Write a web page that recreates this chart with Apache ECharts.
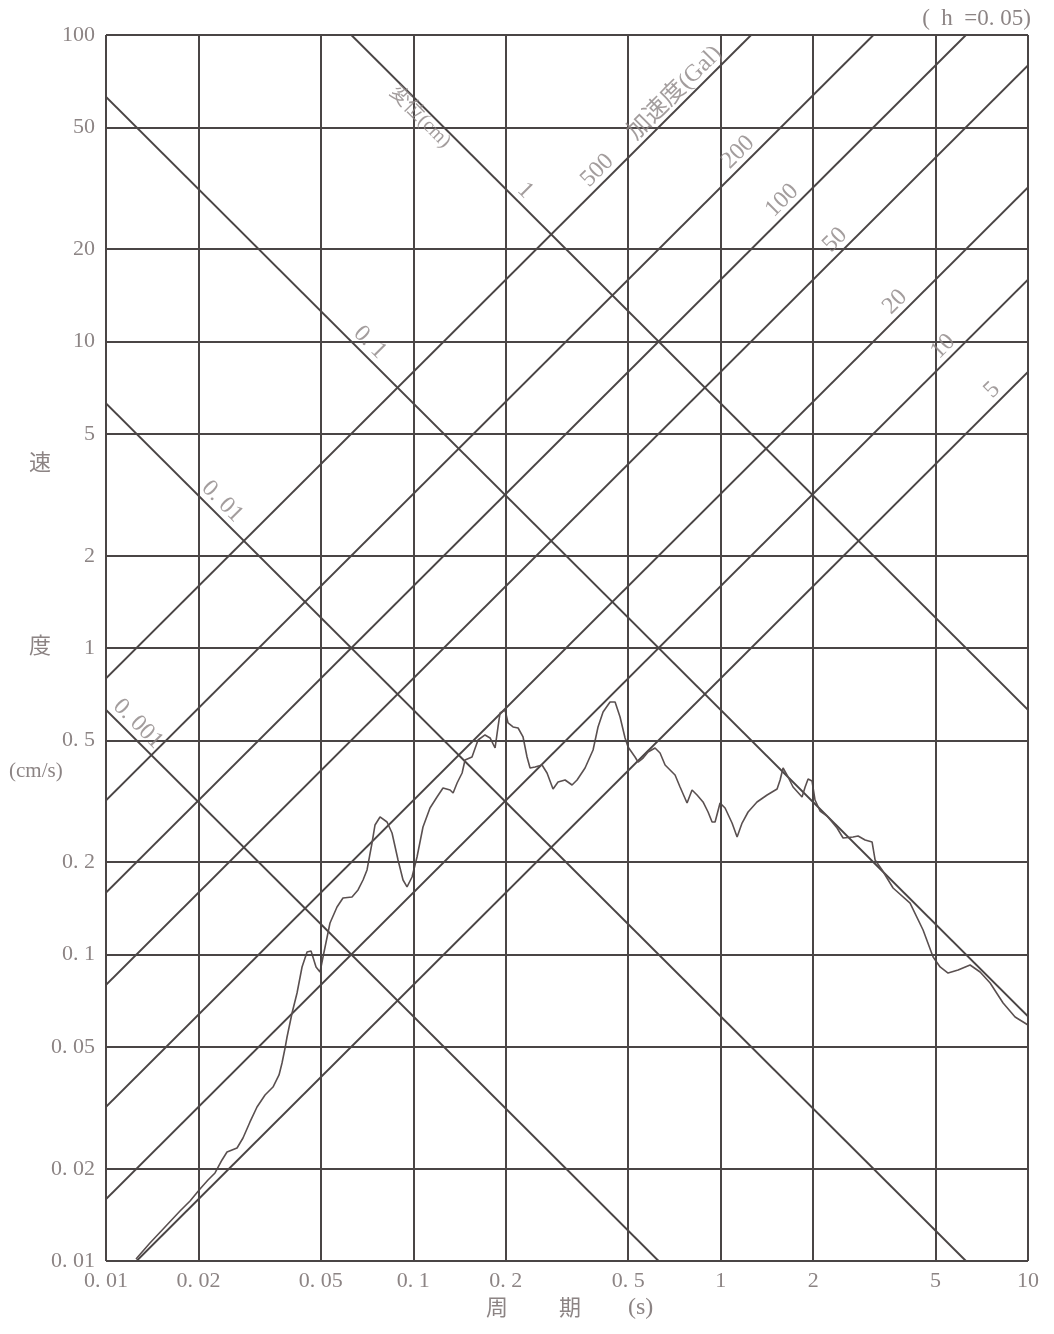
<!DOCTYPE html>
<html>
<head>
<meta charset="utf-8">
<script src="https://cdn.jsdelivr.net/npm/echarts@6/dist/echarts.min.js"></script>
<style>
html,body{margin:0;padding:0;background:#ffffff;}
#chart{width:1054px;height:1334px;}
</style>
</head>
<body>
<div id="chart"></div>
<script>
// ---------------- data ----------------
const periodTicks = [0.01, 0.02, 0.05, 0.1, 0.2, 0.5, 1, 2, 5, 10];
const periodTickLabels = ['0. 01', '0. 02', '0. 05', '0. 1', '0. 2', '0. 5', '1', '2', '5', '10'];
const velocityTicks = [0.01, 0.02, 0.05, 0.1, 0.2, 0.5, 1, 2, 5, 10, 20, 50, 100];
const velocityTickLabels = ['0. 01', '0. 02', '0. 05', '0. 1', '0. 2', '0. 5', '1', '2', '5', '10', '20', '50', '100'];

// displacement guide lines (cm) and where their labels sit (period, s)
const displacementValues = [0.001, 0.01, 0.1, 1];
const displacementLabels = ['0. 001', '0. 01', '0. 1', '1'];
const displacementLabelPeriods = [0.0127, 0.0239, 0.0723, 0.231];
const displacementTitle = '変位(cm)';
const displacementTitlePeriod = 0.105;

// acceleration guide lines (Gal) and where their labels sit (period, s)
const accelerationValues = [500, 200, 100, 50, 20, 10, 5];
const accelerationLabels = ['500', '200', '100', '50', '20', '10', '5'];
const accelerationLabelPeriods = [0.397, 1.139, 1.584, 2.357, 3.694, 5.293, 7.64];
const accelerationTitle = '加速度(Gal)';
const accelerationTitlePeriod = 0.71;

// velocity response spectrum (h = 0.05)
const spectrumPeriod = [
  0.01252, 0.0139, 0.01556, 0.01741, 0.01877, 0.02022, 0.02147, 0.02263, 0.02385, 0.02476,
  0.02669, 0.02791, 0.02941, 0.031, 0.03292, 0.03494, 0.03656, 0.03739, 0.03825, 0.03882,
  0.04031, 0.04184, 0.04344, 0.0451, 0.04647, 0.04824, 0.0497, 0.05083, 0.05356, 0.05645,
  0.05904, 0.06317, 0.06607, 0.0686, 0.07068, 0.07338, 0.07505, 0.07791, 0.08211, 0.08525,
  0.08917, 0.09258, 0.09539, 0.09904, 0.1028, 0.1075, 0.1133, 0.1194, 0.1249, 0.1317,
  0.1347, 0.1388, 0.1441, 0.1473, 0.1552, 0.1624, 0.1711, 0.1777, 0.1845, 0.1886,
  0.1915, 0.1988, 0.2033, 0.2111, 0.2192, 0.2275, 0.2344, 0.2398, 0.2489, 0.2623,
  0.2723, 0.2848, 0.2957, 0.3117, 0.3284, 0.341, 0.362, 0.3844, 0.399, 0.4143,
  0.4366, 0.4534, 0.4706, 0.4886, 0.4997, 0.5265, 0.5385, 0.5592, 0.5804, 0.6116,
  0.635, 0.6594, 0.7106, 0.7377, 0.7774, 0.807, 0.8379, 0.8763, 0.9099, 0.9376,
  0.959, 0.9954, 1.0335, 1.089, 1.131, 1.174, 1.228, 1.313, 1.416, 1.526,
  1.561, 1.596, 1.657, 1.72, 1.84, 1.883, 1.925, 1.983, 2.028, 2.106,
  2.22, 2.392, 2.502, 2.697, 2.8, 2.951, 3.11, 3.18, 3.352, 3.639,
  4.133, 4.556, 4.912, 5.176, 5.495, 5.923, 6.48, 6.984, 7.53, 8.299,
  9.078, 10
];
const spectrumVelocity = [
  0.01015, 0.01145, 0.01291, 0.01456, 0.0157, 0.01717, 0.01838, 0.01937, 0.02136, 0.02268,
  0.02337, 0.02519, 0.02842, 0.0318, 0.0348, 0.03695, 0.04045, 0.04426, 0.04953, 0.0538,
  0.06443, 0.07487, 0.09105, 0.1019, 0.1026, 0.09105, 0.08768, 0.09813, 0.1267, 0.1429,
  0.1529, 0.154, 0.1624, 0.175, 0.1887, 0.2311, 0.2646, 0.281, 0.2706, 0.2491,
  0.2034, 0.175, 0.1661, 0.179, 0.208, 0.2606, 0.3006, 0.3265, 0.3493, 0.3441,
  0.3364, 0.3627, 0.391, 0.4311, 0.441, 0.501, 0.5203, 0.5087, 0.4718, 0.5525,
  0.6137, 0.6277, 0.5693, 0.5525, 0.5483, 0.5125, 0.441, 0.406, 0.4091, 0.4153,
  0.391, 0.3467, 0.3654, 0.371, 0.3573, 0.371, 0.406, 0.4648, 0.5525, 0.6184,
  0.6665, 0.6665, 0.5955, 0.5087, 0.4753, 0.441, 0.4246, 0.4376, 0.4579, 0.4718,
  0.4545, 0.4153, 0.3851, 0.352, 0.3121, 0.3441, 0.3314, 0.3145, 0.2917, 0.2706,
  0.2706, 0.3121, 0.3006, 0.2685, 0.2417, 0.2685, 0.2917, 0.3145, 0.3314, 0.3467,
  0.371, 0.406, 0.3794, 0.352, 0.3265, 0.352, 0.3737, 0.3681, 0.3192, 0.2939,
  0.283, 0.2587, 0.2399, 0.2417, 0.2435, 0.2364, 0.2328, 0.2034, 0.1887, 0.1648,
  0.1472, 0.1202, 0.09813, 0.09105, 0.08701, 0.08899, 0.0924, 0.08768, 0.08072, 0.06947,
  0.06252, 0.05888
];

// ---------------- chart ----------------
const TWO_PI = 2 * Math.PI;
const T_MIN = periodTicks[0], T_MAX = periodTicks[periodTicks.length - 1];
const V_MIN = velocityTicks[0], V_MAX = velocityTicks[velocityTicks.length - 1];
const lineColor = '#4a4545';
const curveColor = '#5a5050';
const textColor = '#8c8484';
const numFont = '"Liberation Serif", "DejaVu Serif", serif';
const cjkFont = '"Liberation Serif", "Noto Sans CJK JP", serif';
// labels sit a little above their guide line (in decades of velocity)
const LABEL_LIFT = Math.pow(10, 0.058);
const TITLE_DROP = Math.pow(10, -0.045);

function makeFormatter(ticks, labels) {
  return function (v) {
    let best = -1, bd = 1e9;
    for (let i = 0; i < ticks.length; i++) {
      const d = Math.abs(Math.log10(v) - Math.log10(ticks[i]));
      if (d < bd) { bd = d; best = i; }
    }
    return bd < 0.01 ? labels[best] : '';
  };
}

const dispVel = (d, t) => TWO_PI * d / t;
const accVel = (a, t) => a * t / TWO_PI;

const series = [];

// grid lines
series.push({
  type: 'line', data: [], silent: true, z: 1,
  markLine: {
    silent: true, symbol: 'none', animation: false,
    label: { show: false },
    lineStyle: { color: lineColor, width: 2, type: 'solid' },
    data: periodTicks.map(v => ({ xAxis: v })).concat(velocityTicks.map(v => ({ yAxis: v })))
  }
});

// displacement lines
displacementValues.forEach(d => {
  series.push({
    type: 'line', silent: true, symbol: 'none', z: 2,
    lineStyle: { color: lineColor, width: 2 },
    data: [[T_MIN / 10, dispVel(d, T_MIN / 10)], [T_MAX * 10, dispVel(d, T_MAX * 10)]]
  });
});
// acceleration lines
accelerationValues.forEach(a => {
  series.push({
    type: 'line', silent: true, symbol: 'none', z: 2,
    lineStyle: { color: lineColor, width: 2 },
    data: [[T_MIN / 10, accVel(a, T_MIN / 10)], [T_MAX * 10, accVel(a, T_MAX * 10)]]
  });
});

// labels along guide lines
const labelItems = [];
displacementValues.forEach((d, i) => {
  const t = displacementLabelPeriods[i];
  labelItems.push({ value: [t, dispVel(d, t) * LABEL_LIFT], label: { formatter: displacementLabels[i], rotate: -45 } });
});
labelItems.push({
  value: [displacementTitlePeriod, dispVel(displacementValues[3], displacementTitlePeriod) * TITLE_DROP],
  label: { formatter: displacementTitle, rotate: -45, fontFamily: cjkFont, fontSize: 20 }
});
accelerationValues.forEach((a, i) => {
  const t = accelerationLabelPeriods[i];
  labelItems.push({ value: [t, accVel(a, t) * LABEL_LIFT], label: { formatter: accelerationLabels[i], rotate: 45 } });
});
labelItems.push({
  value: [accelerationTitlePeriod, accVel(accelerationValues[0], accelerationTitlePeriod) * LABEL_LIFT],
  label: { formatter: accelerationTitle, rotate: 45, fontFamily: cjkFont, fontSize: 24 }
});
series.push({
  type: 'scatter', silent: true, symbolSize: 0, z: 5,
  labelLayout: { hideOverlap: false },
  label: {
    show: true, position: 'inside',
    color: textColor, fontSize: 24, fontFamily: numFont,
    align: 'center', verticalAlign: 'middle'
  },
  data: labelItems
});

// spectrum curve
series.push({
  type: 'line', silent: true, symbol: 'none', z: 4,
  lineStyle: { color: curveColor, width: 1.6 },
  data: spectrumPeriod.map((t, i) => [t, spectrumVelocity[i]])
});

const option = {
  animation: false,
  backgroundColor: '#ffffff',
  grid: { left: 106, top: 35, right: 26, bottom: 73, containLabel: false },
  xAxis: {
    type: 'log', logBase: 10, min: T_MIN, max: T_MAX,
    axisLine: { show: false }, axisTick: { show: false, customValues: periodTicks },
    splitLine: { show: false }, minorSplitLine: { show: false },
    axisLabel: {
      customValues: periodTicks, formatter: makeFormatter(periodTicks, periodTickLabels),
      color: textColor, fontSize: 22, fontFamily: numFont, margin: 9,
      showMinLabel: true, showMaxLabel: true
    }
  },
  yAxis: {
    type: 'log', logBase: 10, min: V_MIN, max: V_MAX,
    axisLine: { show: false }, axisTick: { show: false, customValues: velocityTicks },
    splitLine: { show: false }, minorSplitLine: { show: false },
    axisLabel: {
      customValues: velocityTicks, formatter: makeFormatter(velocityTicks, velocityTickLabels),
      color: textColor, fontSize: 22, fontFamily: numFont, margin: 11,
      showMinLabel: true, showMaxLabel: true
    }
  },
  graphic: [
    { type: 'text', left: 29, top: 453, style: { text: '速', fill: textColor, font: '22px ' + cjkFont } },
    { type: 'text', left: 29, top: 636, style: { text: '度', fill: textColor, font: '22px ' + cjkFont } },
    { type: 'text', left: 9, top: 761, style: { text: '(cm/s)', fill: textColor, font: '21px ' + numFont } },
    { type: 'text', left: 486, top: 1298, style: { text: '周', fill: textColor, font: '22px ' + cjkFont } },
    { type: 'text', left: 559, top: 1298, style: { text: '期', fill: textColor, font: '22px ' + cjkFont } },
    { type: 'text', left: 628, top: 1296, style: { text: '(s)', fill: textColor, font: '24px ' + numFont } },
    { type: 'text', right: 23, top: 7, style: { text: '(  h  =0. 05)', fill: textColor, font: '23px ' + numFont } }
  ],
  series: series
};

const chart = echarts.init(document.getElementById('chart'), null, { renderer: 'canvas' });
chart.setOption(option);
</script>
</body>
</html>
